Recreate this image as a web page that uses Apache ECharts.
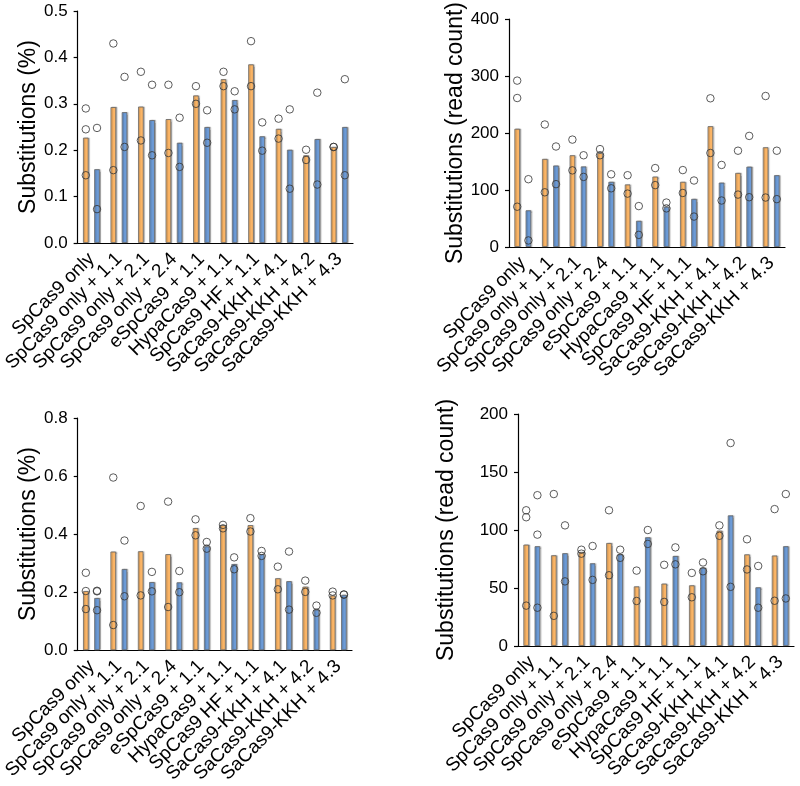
<!DOCTYPE html>
<html>
<head>
<meta charset="utf-8">
<script src="https://cdn.jsdelivr.net/npm/echarts@6/dist/echarts.min.js"></script>
<style>
html,body{margin:0;padding:0;background:#fff;}
#chart{width:800px;height:786px;}
</style>
</head>
<body>
<div id="chart"></div>
<script>
var categories = ['SpCas9 only','SpCas9 only + 1.1','SpCas9 only + 2.1','SpCas9 only + 2.4','eSpCas9 + 1.1','HypaCas9 + 1.1','SpCas9 HF + 1.1','SaCas9-KKH + 4.1','SaCas9-KKH + 4.2','SaCas9-KKH + 4.3'];

// Panel 1: Substitutions (%)
var p1Orange = [0.227, 0.293, 0.294, 0.267, 0.318, 0.353, 0.385, 0.246, 0.189, 0.207];
var p1Blue   = [0.159, 0.282, 0.265, 0.216, 0.250, 0.308, 0.230, 0.201, 0.224, 0.250];
var p1OrangePts = [[0.290,0.245,0.146],[0.430,0.157],[0.369,0.221],[0.341,0.194],[0.338,0.300],[0.369,0.338],[0.435,0.338],[0.268,0.225],[0.201,0.179],[0.207,0.207]];
var p1BluePts   = [[0.248,0.073],[0.358,0.207],[0.341,0.189],[0.270,0.164],[0.286,0.216],[0.327,0.288],[0.260,0.199],[0.288,0.117],[0.324,0.126],[0.353,0.146]];

// Panel 2: Substitutions (read count)
var p2Orange = [207.5, 154.6, 161, 165, 109.8, 123.6, 114.4, 212, 130, 175];
var p2Blue   = [64.4, 143, 141.4, 114.4, 46, 70.7, 84.5, 113, 141, 126];
var p2OrangePts = [[292,261.5,70.7],[215,96],[188.5,134.5],[171.8,161],[126,93.7],[138.5,108.6],[135,94.8],[261,165],[169,92],[265,86.8]];
var p2BluePts   = [[119,11.5],[176.4,110.3],[161,123],[127.6,103],[71.8,21.3],[78,67.8],[116.7,53.4],[144,81.6],[195,87.4],[169,84]];

// Panel 3: Substitutions (%)
var p3Orange = [0.204, 0.340, 0.341, 0.331, 0.421, 0.431, 0.431, 0.248, 0.219, 0.189];
var p3Blue   = [0.180, 0.280, 0.235, 0.234, 0.358, 0.297, 0.331, 0.238, 0.140, 0.191];
var p3OrangePts = [[0.267,0.204,0.142],[0.595,0.087],[0.497,0.189],[0.512,0.149],[0.451,0.396],[0.432,0.420],[0.455,0.409],[0.288,0.210],[0.240,0.201],[0.202,0.189]];
var p3BluePts   = [[0.205,0.203,0.138],[0.378,0.186],[0.270,0.203],[0.273,0.200],[0.373,0.350],[0.320,0.279],[0.342,0.325],[0.340,0.140],[0.154,0.129],[0.192,0.192]];

// Panel 4: Substitutions (read count)
var p4Orange = [87.4, 78.2, 81, 88.8, 51.4, 53.8, 52.3, 99.4, 79, 78];
var p4Blue   = [86, 80, 71.3, 79, 93.7, 77.6, 67.5, 112.6, 50.6, 86];
var p4OrangePts = [[117,111,34.8],[131,26],[83,79.6],[117,61],[65,38.8],[70,38],[63,42],[104,95],[92,66],[118,39]];
var p4BluePts   = [[130,96,33],[104,55.7],[86.2,57],[83,76],[100,88],[85,70.4],[72,64.4],[175,51],[69,33],[131,41]];

var yTitles = ['Substitutions (%)','Substitutions (read count)','Substitutions (%)','Substitutions (read count)'];
var yMax = [0.5, 400, 0.8, 200];
var yInterval = [0.1, 100, 0.2, 50];
var yDecimals = [1, 0, 1, 0];

var panels = [
  {o:p1Orange,b:p1Blue,op:p1OrangePts,bp:p1BluePts},
  {o:p2Orange,b:p2Blue,op:p2OrangePts,bp:p2BluePts},
  {o:p3Orange,b:p3Blue,op:p3OrangePts,bp:p3BluePts},
  {o:p4Orange,b:p4Blue,op:p4OrangePts,bp:p4BluePts}
];

var grids = [
  {left:76, right:447, top:11, height:232},
  {left:509, right:15, top:15, height:232},
  {left:74, right:448, top:418, height:233},
  {left:518, right:6, top:414, height:232}
];
var nameGaps = [34, 39, 33, 60];

var ORANGE = '#FBB566', BLUE = '#6C9BD7';
var FONT = 'Liberation Sans, Arial, sans-serif';
var BW = 5.6;

function flatten(pts){
  var out = [];
  pts.forEach(function(arr, i){ arr.forEach(function(v){ out.push([i, v]); }); });
  return out;
}

var option = {
  backgroundColor:'#fff',
  animation:false,
  grid: grids,
  xAxis: grids.map(function(g, i){
    return {
      type:'category', gridIndex:i, data:categories, boundaryGap:true,
      axisLine:{lineStyle:{color:'#000', width:1.2}},
      axisTick:{alignWithLabel:true, length:5, lineStyle:{color:'#000', width:1.2}},
      axisLabel:{rotate:45, interval:0, fontSize:19, color:'#000', fontFamily:FONT, margin:13}
    };
  }),
  yAxis: grids.map(function(g, i){
    return {
      type:'value', gridIndex:i, min:0, max:yMax[i], interval:yInterval[i],
      name:yTitles[i], nameLocation:'middle', nameGap:nameGaps[i],
      nameTextStyle:{fontSize:23, color:'#000', fontFamily:FONT},
      splitLine:{show:false},
      axisLine:{show:true, lineStyle:{color:'#000', width:1.2}},
      axisTick:{show:true, length:4, lineStyle:{color:'#000', width:1.2}},
      axisLabel:{fontSize:17, color:'#000', fontFamily:FONT, margin:10,
        formatter:(function(d){ return function(v){ return v.toFixed(d); }; })(yDecimals[i])}
    };
  }),
  series: []
};

panels.forEach(function(p, i){
  [[p.o, ORANGE],[p.b, BLUE]].forEach(function(s){
    option.series.push({
      type:'bar', xAxisIndex:i, yAxisIndex:i, data:s[0], barWidth:BW, barGap:'100%',
      itemStyle:{color:s[1], borderColor:'#666', borderWidth:0.8,
        shadowColor:'rgba(0,0,0,0.25)', shadowOffsetX:1.2, shadowOffsetY:0, shadowBlur:1}
    });
  });
  [[p.op, -BW],[p.bp, BW]].forEach(function(s){
    option.series.push({
      type:'scatter', xAxisIndex:i, yAxisIndex:i, data:flatten(s[0]),
      symbol:'circle', symbolSize:7.5, symbolOffset:[s[1], 0], z:5,
      itemStyle:{color:'rgba(255,255,255,0)', borderColor:'#333', borderWidth:1}
    });
  });
});

var chart = echarts.init(document.getElementById('chart'), null, {renderer:'canvas'});
chart.setOption(option);
</script>
</body>
</html>
